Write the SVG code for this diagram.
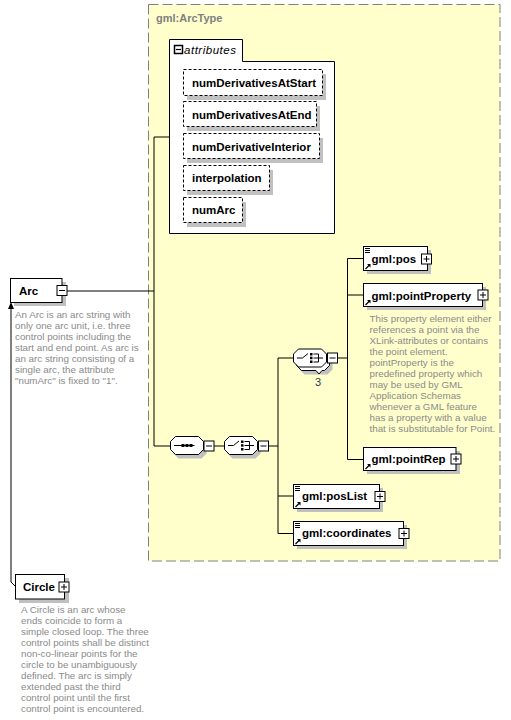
<svg xmlns="http://www.w3.org/2000/svg" width="511" height="720" viewBox="0 0 511 720">
<defs>
<style>
.box{fill:#fff;stroke:#000;stroke-width:1}
.abox{fill:#fff;stroke:#000;stroke-width:1;stroke-dasharray:3 2}
.sh{fill:#c0c0c0}
.nm{font-family:"Liberation Sans",Arial,sans-serif;font-weight:bold;font-size:11.5px;fill:#000}
.ds{font-family:"Liberation Sans",Arial,sans-serif;font-size:9.8px;fill:#8a8a8a}
.ln{fill:none;stroke:#000;stroke-width:1}
.pm{fill:#fff;stroke:#000;stroke-width:1}
</style>
<g id="minus"><rect class="pm" x="0.5" y="0.5" width="10" height="10"/><path d="M2.5 5.5H8.5" stroke="#000" stroke-width="1"/></g>
<g id="plus"><rect class="pm" x="0.5" y="0.5" width="10" height="10"/><path d="M2.5 5.5H8.5M5.5 2.5V8.5" stroke="#000" stroke-width="1"/></g>
<g id="refarrow"><path d="M0.5 5.5L4.5 1.5" stroke="#000" stroke-width="1.2"/><path d="M2 0.5H5.5V4Z" fill="#000"/></g>
<g id="lines"><path d="M0 0.5H5M0 2.5H5M0 4.5H5" stroke="#000" stroke-width="1"/></g>
<path id="oct" d="M5.5 0.5H28.5L33.5 5.5V13.5L28.5 18.5H5.5L0.5 13.5V5.5Z"/>
</defs>
<rect width="511" height="720" fill="#fff"/>

<g id="type-box">
<rect x="148.5" y="4.5" width="351.5" height="556.5" fill="#ffffcc" stroke="#808080" stroke-width="1" stroke-dasharray="10 4"/>
<text x="156" y="22" font-family="Liberation Sans,Arial,sans-serif" font-weight="bold" font-size="11px" fill="#808080">gml:ArcType</text>
</g>

<g id="connectors">
<path class="ln" d="M67 291H154M154 137V446M154 137H169M154 446H170"/>
<path class="ln" d="M214 446H224M269 446H278M278 358V533.5M278 358H293M278 496H293M278 533.5H293"/>
<path class="ln" d="M338 358H347.5M347.5 258.5V459.5M347.5 258.5H363M347.5 295H363M347.5 459.5H363"/>
<path class="ln" d="M11 307V582L15 586"/>
<path d="M11 302L8 309H14Z" fill="#000"/>
</g>

<g id="attributes">
<path d="M169.5 39.5H242.5V61.5H334.5V233.5H169.5Z" fill="#fff" stroke="#000" stroke-width="1"/>
<rect x="174.5" y="45.5" width="8" height="8" fill="#fff" stroke="#000" stroke-width="1.5"/>
<path d="M176 49.5H181" stroke="#000" stroke-width="1.2"/>
<text x="184" y="53.5" font-family="Liberation Sans,Arial,sans-serif" font-style="italic" font-size="11.5px" textLength="52" fill="#000">attributes</text>
</g>

<g id="attr-numDerivativesAtStart">
<rect class="sh" x="187" y="74" width="139" height="26"/>
<rect class="abox" x="183.5" y="69.5" width="139" height="26"/>
<text class="nm" x="192" y="87">numDerivativesAtStart</text>
</g>
<g id="attr-numDerivativesAtEnd">
<rect class="sh" x="187" y="106" width="133" height="25"/>
<rect class="abox" x="183.5" y="101.5" width="133" height="25"/>
<text class="nm" x="192" y="118.5">numDerivativesAtEnd</text>
</g>
<g id="attr-numDerivativeInterior">
<rect class="sh" x="187" y="138" width="136" height="25"/>
<rect class="abox" x="183.5" y="133.5" width="136" height="25"/>
<text class="nm" x="192" y="150.5">numDerivativeInterior</text>
</g>
<g id="attr-interpolation">
<rect class="sh" x="187" y="170" width="86" height="25"/>
<rect class="abox" x="183.5" y="165.5" width="86" height="25"/>
<text class="nm" x="192" y="182">interpolation</text>
</g>
<g id="attr-numArc">
<rect class="sh" x="187" y="202" width="59" height="25"/>
<rect class="abox" x="183.5" y="197.5" width="59" height="25"/>
<text class="nm" x="192" y="214">numArc</text>
</g>

<g id="Arc">
<rect class="sh" x="14" y="282" width="52" height="24"/>
<rect class="box" x="10.5" y="278.5" width="51.5" height="24"/>
<text class="nm" x="19" y="294.5">Arc</text>
<use href="#minus" x="56.5" y="285"/>
<text class="ds" x="15">
<tspan x="15" y="317.5">An Arc is an arc string with</tspan>
<tspan x="15" y="328.5">only one arc unit, i.e. three</tspan>
<tspan x="15" y="339.5">control points including the</tspan>
<tspan x="15" y="350.5">start and end point. As arc is</tspan>
<tspan x="15" y="361.5">an arc string consisting of a</tspan>
<tspan x="15" y="372.5">single arc, the attribute</tspan>
<tspan x="15" y="383.5">"numArc" is fixed to "1".</tspan>
</text>
</g>

<g id="Circle">
<rect class="sh" x="19" y="578" width="50" height="25"/>
<rect class="box" x="15.5" y="574.5" width="49" height="24.5"/>
<text class="nm" x="23" y="590.5">Circle</text>
<use href="#plus" x="58.5" y="581.5"/>
<text class="ds">
<tspan x="21" y="613">A Circle is an arc whose</tspan>
<tspan x="21" y="624">ends coincide to form a</tspan>
<tspan x="21" y="635">simple closed loop. The three</tspan>
<tspan x="21" y="646">control points shall be distinct</tspan>
<tspan x="21" y="657">non-co-linear points for the</tspan>
<tspan x="21" y="668">circle to be unambiguously</tspan>
<tspan x="21" y="679">defined. The arc is simply</tspan>
<tspan x="21" y="690">extended past the third</tspan>
<tspan x="21" y="701">control point until the first</tspan>
<tspan x="21" y="712">control point is encountered.</tspan>
</text>
</g>

<g id="sequence">
<use href="#oct" x="173" y="440" class="sh"/>
<use href="#oct" x="170" y="436" fill="#fff" stroke="#000" stroke-width="1"/>
<path d="M174 445.5H194.5" stroke="#000" stroke-width="1"/>
<rect x="181.5" y="444" width="3" height="3" fill="#000"/>
<rect x="185.5" y="444" width="3" height="3" fill="#000"/>
<rect x="189.5" y="444" width="3" height="3" fill="#000"/>
<use href="#minus" x="203.5" y="440.5"/>
</g>

<g id="choice">
<use href="#oct" x="227" y="440" class="sh"/>
<use href="#oct" x="224" y="436" fill="#fff" stroke="#000" stroke-width="1"/>
<path d="M228 445.5H233.5L239 441" fill="none" stroke="#000" stroke-width="1"/>
<rect x="241" y="440.5" width="2.5" height="2.5" fill="#000"/>
<rect x="241" y="444.2" width="2.5" height="2.5" fill="#000"/>
<rect x="241" y="448" width="2.5" height="2.5" fill="#000"/>
<path d="M244.5 441.5H249.5V449.5H244.5M244.5 445.5H254" fill="none" stroke="#000" stroke-width="1"/>
<use href="#minus" x="258" y="440.5"/>
</g>

<g id="choice-3">
<use href="#oct" x="299" y="356" class="sh"/>
<path d="M301.5 352.5H324.5L329.5 357.5V365.5L324.5 370.5H322L319 374L316 370.5H301.5L296.5 365.5V357.5Z" fill="#fff" stroke="#000" stroke-width="1"/>
<use href="#oct" x="293" y="348.5" fill="#fff" stroke="#000" stroke-width="1"/>
<path d="M297 358H302.5L308 353.5" fill="none" stroke="#000" stroke-width="1"/>
<rect x="310" y="353" width="2.5" height="2.5" fill="#000"/>
<rect x="310" y="356.7" width="2.5" height="2.5" fill="#000"/>
<rect x="310" y="360.5" width="2.5" height="2.5" fill="#000"/>
<path d="M313.5 354H318.5V362H313.5M313.5 358H323" fill="none" stroke="#000" stroke-width="1"/>
<use href="#minus" x="327" y="352.5"/>
<text x="318" y="386" text-anchor="middle" font-family="Liberation Sans,Arial,sans-serif" font-size="11px" fill="#1d3a63">3</text>
</g>

<g id="gml-pos">
<rect class="sh" x="367" y="250" width="64" height="24"/>
<rect class="box" x="363.5" y="246.5" width="64" height="24"/>
<use href="#lines" x="365" y="248"/>
<use href="#refarrow" x="365" y="263.5"/>
<text class="nm" x="371.5" y="263">gml:pos</text>
<use href="#plus" x="421" y="253.5"/>
</g>

<g id="gml-pointProperty">
<rect class="sh" x="367" y="287" width="119" height="23"/>
<rect class="box" x="363.5" y="283.5" width="119" height="23"/>
<use href="#refarrow" x="365" y="299.5"/>
<text class="nm" x="371.5" y="299.5">gml:pointProperty</text>
<use href="#plus" x="477.5" y="289.5"/>
<text class="ds">
<tspan x="369.5" y="322">This property element either</tspan>
<tspan x="369.5" y="333">references a point via the</tspan>
<tspan x="369.5" y="344">XLink-attributes or contains</tspan>
<tspan x="369.5" y="355">the point element.</tspan>
<tspan x="369.5" y="366">pointProperty is the</tspan>
<tspan x="369.5" y="377">predefined property which</tspan>
<tspan x="369.5" y="388">may be used by GML</tspan>
<tspan x="369.5" y="399">Application Schemas</tspan>
<tspan x="369.5" y="410">whenever a GML feature</tspan>
<tspan x="369.5" y="421">has a property with a value</tspan>
<tspan x="369.5" y="432">that is substitutable for Point.</tspan>
</text>
</g>

<g id="gml-pointRep">
<rect class="sh" x="367" y="451" width="93" height="23"/>
<rect class="box" x="363.5" y="447.5" width="92.5" height="23"/>
<use href="#refarrow" x="365" y="463.5"/>
<text class="nm" x="371.5" y="463">gml:pointRep</text>
<use href="#plus" x="450.5" y="453.5"/>
</g>

<g id="gml-posList">
<rect class="sh" x="297" y="488" width="86" height="24"/>
<rect class="box" x="293.5" y="484.5" width="86" height="24"/>
<use href="#lines" x="295" y="486"/>
<use href="#refarrow" x="295" y="501.5"/>
<text class="nm" x="302" y="500">gml:posList</text>
<use href="#plus" x="374.5" y="491"/>
</g>

<g id="gml-coordinates">
<rect class="sh" x="297" y="525" width="110" height="24"/>
<rect class="box" x="293.5" y="521.5" width="110" height="24"/>
<use href="#lines" x="295" y="523"/>
<use href="#refarrow" x="295" y="538.5"/>
<text class="nm" x="302" y="537">gml:coordinates</text>
<use href="#plus" x="398.5" y="528"/>
</g>
</svg>
